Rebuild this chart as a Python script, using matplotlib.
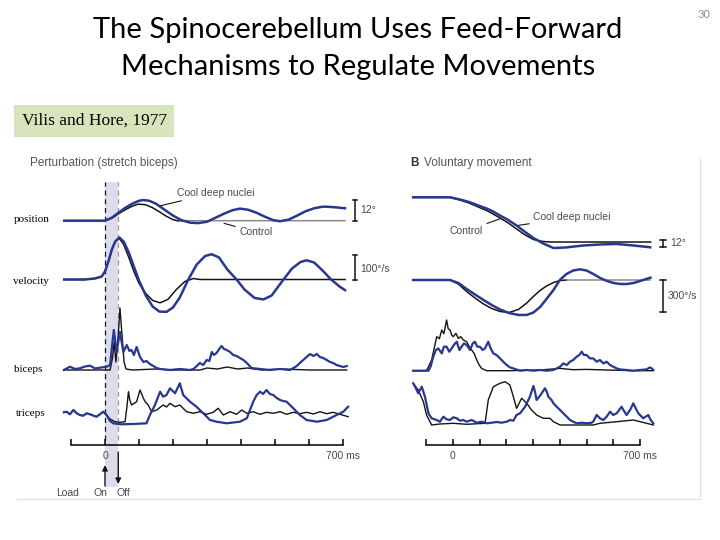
import matplotlib.pyplot as plt
from matplotlib.lines import Line2D

W, H = 720, 540
BLUE = '#28388f'
BLACK = '#141414'
GREY = '#8a8a8a'
TXT = '#4a4a4a'
SANS = ['Liberation Sans', 'DejaVu Sans']
SERIF = ['Liberation Serif', 'DejaVu Serif']

# ---- data (time in ms; angle in deg; velocity in deg/s; EMG in arbitrary units)
# A: perturbation, position
LP_T_BLUE = [-120, -50, 0, 20, 40, 60, 80, 100, 113, 130, 150, 175, 200, 225, 250, 274, 300, 325, 350, 375,
             397, 420, 445, 470, 495, 515, 540, 565, 590, 615, 640, 652, 675, 706]
LP_BLUE = [0, 0, 0, 1.7, 4.6, 7.4, 9.7, 11.4, 11.8, 11.4, 9.7, 6.3, 2.9, 0.3, -1.1, -1.4, -0.6, 1.7, 4.0, 6.0,
           6.9, 6.3, 4.6, 2.3, 0.3, -0.3, 0.6, 2.9, 5.4, 7.1, 8.0, 8.0, 7.7, 7.1]
LP_T_BLACK = [-120, -50, 0, 20, 40, 60, 80, 98, 120, 140, 160, 180, 200, 220, 240, 706]
LP_BLACK = [0, 0, 0, 1.4, 4.0, 6.3, 8.3, 9.5, 9.1, 7.4, 5.1, 2.6, 0.6, -0.3, 0, 0]

# A: velocity
LV_T_BLUE = [-120, -60, -30, -10, 0, 10, 20, 30, 42, 55, 70, 85, 100, 120, 140, 160, 181, 200, 220, 245,
             270, 295, 314, 335, 360, 387, 410, 440, 466, 490, 525, 550, 575, 593, 615, 640, 665, 690, 706]
LV_BLUE = [0, 0, 4, 12, 33, 74, 123, 156, 173, 156, 111, 53, -4, -66, -111, -132, -133, -115, -74, 0,
           62, 97, 104, 91, 41, 0, -41, -76, -82, -66, 0, 45, 72, 79, 70, 37, 0, -29, -44]
LV_T_BLACK = [-120, -60, -30, -10, 0, 10, 20, 30, 42, 55, 70, 85, 100, 120, 140, 162, 185, 210, 235, 260, 280, 706]
LV_BLACK = [0, 0, 4, 12, 33, 74, 123, 156, 169, 144, 91, 33, -16, -58, -86, -96, -82, -41, -8, 4, 0, 0]

# A: biceps EMG
LB_T_BLUE = [-121, -103, -88, -74, -59, -44, -29, -15, 5, 15, 21, 26, 34, 44, 54, 64, 72, 78, 85, 93,
             103, 113, 122, 132, 142, 152, 162, 191, 220, 250, 260, 270, 279, 289, 299, 307, 314, 320, 328, 336,
             343, 350, 358, 368, 377, 387, 397, 407, 417, 431, 456, 485, 515, 544, 554, 564, 573, 583, 593, 603,
             613, 623, 632, 642, 652, 662, 671, 681, 691, 701, 711]
LB_BLUE = [0, 3.3, 1, 1.7, 3.5, 4.3, 1.5, 2.3, 3.3, 5, 25, 40, 18, 38, 18, 25, 19, 20, 15, 23,
           13, 8, 9, 6, 4, 2, 1, 0, 1, 0, 1, 4, 7, 5, 10, 9, 18, 15, 17, 21,
           24, 21, 20, 18, 15, 14, 12, 10, 7, 2, 1, 0, 1, 0, 2, 4, 7, 10, 13, 16,
           14, 16, 13, 12, 10, 8, 7, 5, 4, 3, 4]
LB_T_BLACK = [-121, 5, 15, 22, 27, 32, 39, 44, 50, 56, 62, 80, 150, 200, 280, 300, 330, 360, 390, 420, 460, 520, 600, 711]
LB_BLACK = [0, 0, 0, 12, 28, 8, 35, 62, 35, 8, 1, 0, 1, 0, 0, 2, 1, 3, 1, 2, 0, 1, 0, 0]

# A: triceps EMG
LT_T_BLUE = [-121, -113, -103, -93, -83, -74, -64, -54, -44, -34, -25, -15, -5, 5, 15, 24, 44, 83, 122, 132,
             147, 162, 171, 181, 191, 206, 220, 230, 250, 269, 289, 309, 328, 358, 397, 417, 436, 446, 456, 465,
             475, 485, 495, 505, 515, 524, 534, 544, 554, 573, 593, 623, 652, 681, 701, 715]
LT_BLUE = [1.7, 2.3, -0.3, 4, 0.7, -1, -1.7, 0.7, -0.3, -1.7, -2.7, -0.3, 2.3, -1, -7, -9.3, -10.3, -10, -9.3, -1,
           9, 22.3, 17.3, 19, 25.7, 20.7, 30.7, 19, 12.3, 7.3, 0.7, -6, -7.7, -9.3, -7.7, -4.3, 12.3, 19, 22.3, 20,
           24, 20, 19, 16, 14, 13, 12.3, 9, 5.7, -1, -6, -7.7, -6, -1, 2.3, 7.3]
LT_T_BLACK = [-121, -113, -103, -93, -83, -74, -64, -54, -44, -34, -25, -15, -5, 5, 15, 29, 44, 59, 64, 69,
              73, 78, 93, 103, 113, 118, 127, 137, 152, 171, 181, 191, 206, 220, 240, 260, 279, 299, 318, 333,
              348, 368, 387, 402, 417, 436, 456, 475, 495, 515, 534, 554, 573, 593, 613, 632, 652, 671, 691, 715]
LT_BLACK = [1.7, 2.3, -0.3, 4, 0.7, -1, -1.7, 0.7, -0.3, -1.7, -2.7, -0.3, 2.3, -1.7, -5, -7.7, -8.3, -7.7, 5.7, 22.3,
            14, 9, 12.3, 24, 15.7, 12.3, 9, 2.3, 4, 9, 7, 10.7, 7.3, 9, 2.3, 0.7, 2.3, -0.3, 1.7, 5.7,
            -1, 2.3, -0.3, 4, 0.7, 2.3, -0.3, 1.7, 0.7, 2.3, -0.3, 1.7, 0.3, 1.7, 0, 2.3, 0.3, 1.7, -0.3, -2.7]

# B: voluntary movement, position
RP_T_BLUE = [-149, -11, 26, 60, 90, 126, 150, 176, 207, 238, 270, 301, 338, 376, 420, 488, 550, 613, 676, 738]
RP_BLUE = [0, 0, -4.0, -8.5, -14.0, -20.4, -25.8, -33.1, -41.3, -51.3, -63.1, -74.0, -84.0, -92.2, -91.3,
           -87.6, -85.8, -84.9, -87.6, -90.9]
RP_T_BLACK = [-149, -11, 26, 60, 90, 126, 150, 176, 207, 238, 270, 301, 338, 370, 400, 740]
RP_BLACK = [0, 0, -4.9, -10.4, -16.7, -24.0, -30.4, -37.6, -46.7, -57.6, -68.5, -76.7, -80.4, -81.3, -81.3, -81.3]

# B: velocity
RV_T_BLUE = [-149, -11, 20, 51, 82, 114, 145, 176, 210, 245, 276, 301, 326, 350, 376, 400, 425, 450, 475, 500,
             525, 551, 576, 601, 626, 651, 676, 701, 739]
RV_BLUE = [0, 0, -28, -85, -137, -189, -237, -279, -313, -331, -331, -308, -256, -180, -95, 0, 57, 90, 101, 90,
           57, 19, -9, -28, -38, -38, -28, -9, 22]
RV_T_BLACK = [-149, -11, 20, 51, 82, 114, 145, 176, 210, 245, 276, 301, 326, 350, 376, 400, 426, 739]
RV_BLACK = [0, 0, -38, -109, -170, -227, -270, -298, -308, -279, -218, -156, -99, -57, -24, -5, 0, 0]

# B: biceps EMG
RB_T_BLUE = [-149, -92, -84, -74, -64, -55, -42, -34, -24, -14, -5, 3, 14, 24, 32, 41, 51, 64, 74, 82,
             91, 101, 111, 120, 132, 141, 151, 163, 176, 188, 201, 213, 226, 251, 276, 301, 326, 351, 376, 388,
             401, 413, 426, 438, 450, 463, 473, 482, 490, 500, 513, 525, 538, 550, 563, 575, 588, 600, 613, 625,
             650, 675, 700, 725, 737, 744, 750]
RB_BLUE = [0, 0, 4, 14, 20.7, 22.3, 17.3, 24, 24, 19, 22.3, 25.7, 29, 20.7, 24, 27.3, 25.7, 20.7, 27.3, 29,
           24, 24, 20.7, 22.3, 29, 22.3, 17.3, 15.7, 12.3, 9, 5.7, 3.3, 2.3, 0, 0.7, 0, 0.7, 0, 0.7, 2.3,
           4, 7.3, 5.7, 9, 10.7, 14, 15.7, 19, 15.7, 15.7, 12.3, 12.3, 9, 10.7, 7.3, 9, 5.7, 4, 2.3, 1.3,
           0.7, 0, 0.7, 1.3, 3.3, 2.3, 0.7]
RB_T_BLACK = [-149, -99, -80, -61, -51, -42, -34, -24, -18, -11, -5, 1, 11, 20, 29, 39, 51, 61, 70, 79,
              89, 98, 107, 126, 213, 326, 400, 450, 500, 575, 675, 750]
RB_BLACK = [0, 0, 10.7, 34, 32, 40.7, 37, 50.7, 42, 40.7, 35.7, 34, 37.3, 32.3, 34, 30.7, 29, 24, 20.7, 17.3,
            10.7, 5.7, 2.3, 0, 0, 0.7, 2.3, 1, 1.3, 0.7, 0, 0]

# B: triceps EMG
RT_T_BLUE = [-149, -139, -130, -124, -117, -105, -92, -80, -61, -49, -36, -24, -11, 1, 14, 26, 39, 51, 70, 89,
             107, 126, 145, 163, 182, 201, 213, 226, 238, 251, 270, 282, 288, 301, 307, 313, 323, 332, 344, 351,
             357, 369, 376, 388, 401, 413, 426, 438, 450, 463, 482, 500, 519, 525, 538, 550, 563, 575, 588, 600,
             613, 631, 638, 650, 663, 675, 684, 694, 712, 731, 740, 750]
RT_BLUE = [41.7, 36.7, 31.7, 35, 38.3, 28.3, 11.7, 6.7, 5, 3.3, 8.3, 5.7, 5, 7.7, 6.7, 4.3, 5, 3.3, 5, 2.3,
           3.3, 1.7, 2.3, 3, 2.3, 3.3, 5, 4.3, 10, 11.7, 18.3, 25, 28.3, 39, 33.3, 25, 28.3, 31.7, 36.7, 33.3,
           28.3, 25, 21.7, 18.3, 15, 11.7, 8.3, 5, 3.3, 1.7, 2.3, 1.7, 2.3, 3.3, 10, 6.7, 5, 8.3, 13.3, 10,
           11.7, 18.3, 15, 10, 15, 21.7, 16.7, 11.7, 6.7, 10, 5, 1.7]
RT_T_BLACK = [-149, -130, -111, -99, -80, -49, 1, 51, 120, 132, 151, 176, 195, 213, 226, 238, 257, 276, 294, 313,
              338, 363, 376, 401, 525, 550, 613, 675, 725, 750]
RT_BLACK = [41.7, 35, 23.3, 10, 0, 1, 1.7, 0.7, 1.7, 25, 38.3, 41.7, 43.3, 40, 28.3, 16.7, 26.7, 21.7, 15, 10,
            6.7, 6.7, 3.3, 0, 0, 1.7, 3.3, 5, 1.7, 0]

TICKS_MS = [-100, 0, 100, 200, 300, 400, 500, 600, 700]
TICK_LABELS = ['', '0', '', '', '', '', '', '', '700 ms']
STIM_OFF = 39  # end of the load pulse (ms)

# ---- layout helpers (pixel boxes -> figure fractions)
fig = plt.figure(figsize=(W / 100, H / 100), dpi=100)
fig.patch.set_facecolor('white')

L_X = (55, 365)
L_XLIM = ((55 - 105) / 0.34, (365 - 105) / 0.34)
R_X = (400, 700)
R_XLIM = ((400 - 453) / 0.2671, (700 - 453) / 0.2671)


def box(x0, x1, y0, y1):
    return [x0 / W, 1 - y1 / H, (x1 - x0) / W, (y1 - y0) / H]


def add_row(xs, y0, y1, xlim, base, scale):
    ax = fig.add_axes(box(xs[0], xs[1], y0, y1))
    ax.set_xlim(xlim)
    ax.set_ylim((base - y1) / scale, (base - y0) / scale)
    ax.axis('off')
    return ax


def trace(ax, t, v, color, lw):
    ax.plot(t, v, color=color, lw=lw, clip_on=False, solid_joinstyle='round')


def scale_bar(ax, t, v0, v1, cap, label, lt, lv):
    ax.plot([t, t], [v0, v1], color=BLACK, lw=1.1, clip_on=False)
    ax.plot([t - cap, t + cap], [v0, v0], color=BLACK, lw=1.1, clip_on=False)
    ax.plot([t - cap, t + cap], [v1, v1], color=BLACK, lw=1.1, clip_on=False)
    ax.text(lt, lv, label, fontsize=7.5, color=TXT, family=SANS, va='center', ha='left')


def time_axis(xs, xlim):
    ax = fig.add_axes(box(xs[0], xs[1], 435, 445))
    ax.set_xlim(xlim)
    ax.patch.set_visible(False)
    for s in ['top', 'left', 'right']:
        ax.spines[s].set_visible(False)
    ax.spines['bottom'].set_bounds(-100, 700)
    ax.spines['bottom'].set_linewidth(1.1)
    ax.set_yticks([])
    ax.set_xticks(TICKS_MS)
    ax.set_xticklabels(TICK_LABELS, family=SANS)
    ax.tick_params(axis='x', direction='in', length=4, width=1.1, pad=4, labelsize=7.5, labelcolor=TXT)
    return ax


# shaded load pulse + markers (left column)
band = fig.add_axes(box(L_X[0], L_X[1], 150, 500))
band.set_xlim(L_XLIM)
band.set_ylim(0, 1)
band.axis('off')


def fy(py):
    return (500 - py) / 350


band.axvspan(0, STIM_OFF, ymin=fy(487), ymax=fy(182), color='#dcdcec', lw=0, zorder=0)
band.axvline(0, ymin=fy(440), ymax=fy(182), color=BLACK, lw=0.9, ls=(0, (4, 3)))
band.axvline(STIM_OFF, ymin=fy(440), ymax=fy(182), color='#9a9a9a', lw=0.9, ls=(0, (4, 3)))
band.annotate('', xy=(0, fy(465)), xytext=(0, fy(486)), xycoords=('data', 'axes fraction'),
              arrowprops=dict(arrowstyle='-|>', color=BLACK, lw=1, mutation_scale=8, shrinkA=0, shrinkB=0))
band.annotate('', xy=(STIM_OFF, fy(484)), xytext=(STIM_OFF, fy(452)), xycoords=('data', 'axes fraction'),
              arrowprops=dict(arrowstyle='-|>', color=BLACK, lw=1, mutation_scale=8, shrinkA=0, shrinkB=0))
for lab, t in [('Load', -109), ('On', -12), ('Off', 53)]:
    band.text(t, fy(493), lab, transform=band.get_xaxis_transform(), ha='center', va='center',
              fontsize=7.5, color=TXT, family=SANS)

# ---- panel A rows
ax = add_row(L_X, 185, 232, L_XLIM, 220.7, 1.75)
trace(ax, LP_T_BLACK[:-1], LP_BLACK[:-1], BLACK, 1.1)
trace(ax, LP_T_BLACK[-3:], LP_BLACK[-3:], GREY, 1.1)
trace(ax, LP_T_BLUE, LP_BLUE, BLUE, 1.8)
scale_bar(ax, 735, 0, 12, 7, '12°', 752, 6)
ax.annotate('Cool deep nuclei', xy=(162, 8.5), xytext=(212, 16), fontsize=7.5, color=TXT, family=SANS,
            ha='left', va='center', arrowprops=dict(arrowstyle='-', lw=0.8, color=BLACK, shrinkA=1, shrinkB=0))
ax.annotate('Control', xy=(350, -1.5), xytext=(395, -6.6), fontsize=7.5, color=TXT, family=SANS,
            ha='left', va='center', arrowprops=dict(arrowstyle='-', lw=0.8, color=BLACK, shrinkA=1, shrinkB=0))

ax = add_row(L_X, 232, 318, L_XLIM, 279.5, 0.243)
trace(ax, LV_T_BLACK, LV_BLACK, BLACK, 1.1)
trace(ax, LV_T_BLUE, LV_BLUE, BLUE, 1.8)
scale_bar(ax, 735, 0, 100, 7, '100°/s', 752, 45)

ax = add_row(L_X, 300, 378, L_XLIM, 370, 1.0)
trace(ax, LB_T_BLACK, LB_BLACK, BLACK, 1.0)
trace(ax, LB_T_BLUE, LB_BLUE, BLUE, 1.6)

ax = add_row(L_X, 378, 432, L_XLIM, 414, 1.0)
trace(ax, LT_T_BLACK, LT_BLACK, BLACK, 1.0)
trace(ax, LT_T_BLUE, LT_BLUE, BLUE, 1.6)

time_axis(L_X, L_XLIM)

# ---- panel B rows
ax = add_row(R_X, 185, 255, R_XLIM, 197.3, 0.55)
trace(ax, RP_T_BLACK, RP_BLACK, BLACK, 1.1)
trace(ax, RP_T_BLUE, RP_BLUE, BLUE, 1.8)
scale_bar(ax, 786, -90, -78, 12, '12°', 812, -83)
ax.annotate('Cool deep nuclei', xy=(245, -51), xytext=(301, -36.5), fontsize=7.5, color=TXT, family=SANS,
            ha='left', va='center', arrowprops=dict(arrowstyle='-', lw=0.8, color=BLACK, shrinkA=1, shrinkB=0))
ax.annotate('Control', xy=(176, -39), xytext=(112, -61.3), fontsize=7.5, color=TXT, family=SANS,
            ha='right', va='center', arrowprops=dict(arrowstyle='-', lw=0.8, color=BLACK, shrinkA=1, shrinkB=0))

ax = add_row(R_X, 262, 320, R_XLIM, 280, 0.1056)
trace(ax, RV_T_BLACK[:-1], RV_BLACK[:-1], BLACK, 1.1)
trace(ax, RV_T_BLACK[-2:], RV_BLACK[-2:], GREY, 1.1)
trace(ax, RV_T_BLUE, RV_BLUE, BLUE, 1.8)
scale_bar(ax, 786, -300, 0, 12, '300°/s', 805, -151)

ax = add_row(R_X, 310, 378, R_XLIM, 370.7, 1.0)
trace(ax, RB_T_BLACK, RB_BLACK, BLACK, 1.0)
trace(ax, RB_T_BLUE, RB_BLUE, BLUE, 1.6)

ax = add_row(R_X, 372, 432, R_XLIM, 425, 1.0)
trace(ax, RT_T_BLACK, RT_BLACK, BLACK, 1.0)
trace(ax, RT_T_BLUE, RT_BLUE, BLUE, 1.6)

time_axis(R_X, R_XLIM)

# ---- slide text
fig.text(358 / W, 1 - 38 / H, 'The Spinocerebellum Uses Feed-Forward', ha='center', va='baseline',
         fontsize=21, family=['Lato', 'DejaVu Sans'], color='black')
fig.text(358 / W, 1 - 75 / H, 'Mechanisms to Regulate Movements', ha='center', va='baseline',
         fontsize=21, family=['Lato', 'DejaVu Sans'], color='black')
fig.text(704 / W, 1 - 15 / H, '30', ha='center', va='center', fontsize=8, color='#8c8c8c',
         family=['Lato', 'DejaVu Sans'])
fig.text(94 / W, 1 - 121 / H, 'Vilis and Hore, 1977', ha='center', va='center', fontsize=12.5,
         family=SERIF, color='black',
         bbox=dict(boxstyle='square,pad=0.45', facecolor='#d8e4bc', edgecolor='none'))

fig.text(30 / W, 1 - 163 / H, 'Perturbation (stretch biceps)', ha='left', va='center', fontsize=8.5,
         color='#555555', family=SANS)
fig.text(410 / W, 1 - 163 / H, 'B', ha='left', va='center', fontsize=8.5, color='#333333',
         family=SANS, weight='bold')
fig.text(424 / W, 1 - 163 / H, 'Voluntary movement', ha='left', va='center', fontsize=8.5,
         color='#555555', family=SANS)

for lab, px, py in [('position', 14, 220), ('velocity', 13, 281), ('biceps', 14, 369), ('triceps', 16, 413)]:
    fig.text(px / W, 1 - py / H, lab, ha='left', va='center', fontsize=8, family=SERIF, color='black')

# faint frame of the pasted figure
fig.add_artist(Line2D([700 / W, 700 / W], [1 - 158 / H, 1 - 499 / H], color='#e4e4e4', lw=1))
fig.add_artist(Line2D([17 / W, 700 / W], [1 - 499 / H, 1 - 499 / H], color='#e4e4e4', lw=1))

fig.savefig('out.png', dpi=100)
